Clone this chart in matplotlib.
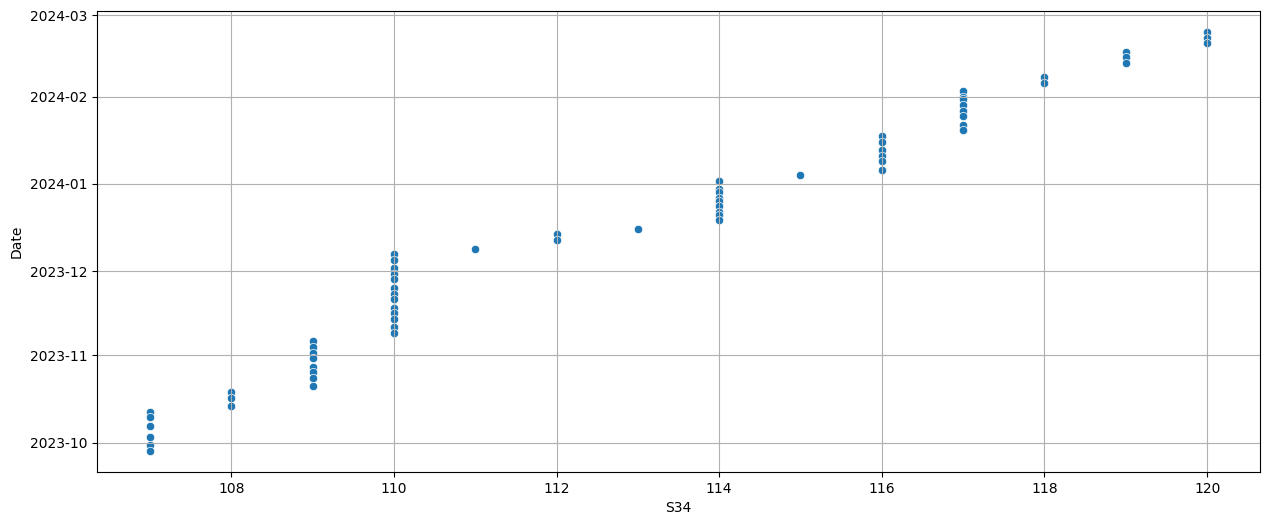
import matplotlib
matplotlib.use("Agg")
import matplotlib.pyplot as plt
import pandas as pd
import seaborn as sns

s34 = [107]*6 + [108]*3 + [109]*8 + [110]*13 + [111] + [112]*2 + [113] + [114]*9 + [115] + [116]*6 + [117]*8 + [118]*2 + [119]*3 + [120]*3
dates = [
    "2023-10-12", "2023-10-10", "2023-10-07", "2023-10-03", "2023-09-30", "2023-09-28",
    "2023-10-19", "2023-10-17", "2023-10-14",
    "2023-11-06", "2023-11-04", "2023-11-02", "2023-10-31", "2023-10-28", "2023-10-26", "2023-10-24", "2023-10-21",
    "2023-12-07", "2023-12-05", "2023-12-02", "2023-11-30", "2023-11-28", "2023-11-25", "2023-11-23",
    "2023-11-21", "2023-11-18", "2023-11-16", "2023-11-14", "2023-11-11", "2023-11-09",
    "2023-12-09",
    "2023-12-14", "2023-12-12",
    "2023-12-16",
    "2024-01-02", "2023-12-30", "2023-12-29", "2023-12-27", "2023-12-26", "2023-12-24", "2023-12-22", "2023-12-21", "2023-12-19",
    "2024-01-04",
    "2024-01-18", "2024-01-16", "2024-01-13", "2024-01-11", "2024-01-09", "2024-01-06",
    "2024-02-03", "2024-02-01", "2024-01-31", "2024-01-29", "2024-01-27", "2024-01-25", "2024-01-22", "2024-01-20",
    "2024-02-08", "2024-02-06",
    "2024-02-17", "2024-02-15", "2024-02-13",
    "2024-02-24", "2024-02-22", "2024-02-20",
]

df = pd.DataFrame({"S34": s34, "Date": pd.to_datetime(dates)})

fig = plt.figure(figsize=(12.69, 5.26), dpi=100)
ax = fig.add_axes([97/1269, 1 - 472/526, (1260 - 97)/1269, (472 - 11)/526])
sns.scatterplot(data=df, x="S34", y="Date", ax=ax)
ax.grid(True)
fig.savefig("out.png", dpi=100)
